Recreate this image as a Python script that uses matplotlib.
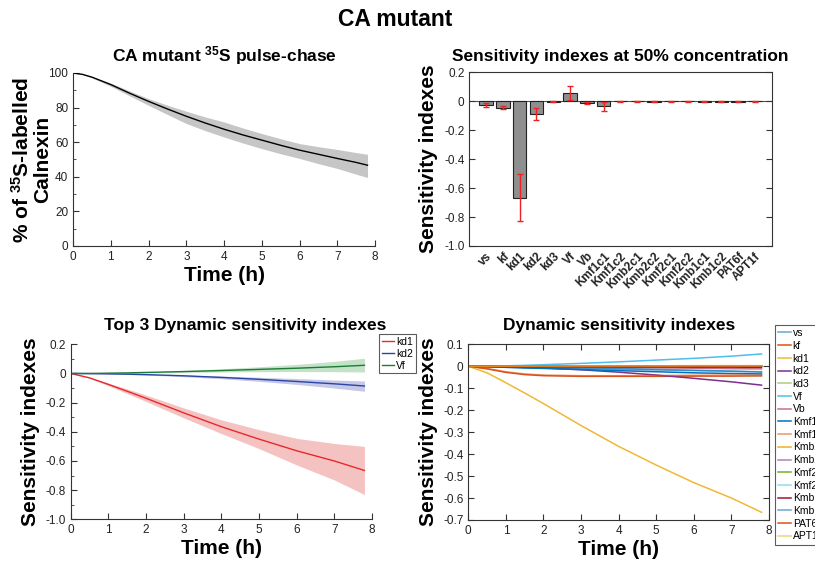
import matplotlib
matplotlib.use("Agg")
import matplotlib.pyplot as plt
import numpy as np
from matplotlib.ticker import MultipleLocator

plt.rcParams["font.family"] = ["Liberation Sans", "DejaVu Sans"]
plt.rcParams["mathtext.fontset"] = "custom"
plt.rcParams["mathtext.rm"] = "Liberation Sans"
plt.rcParams["mathtext.bf"] = "Liberation Sans:bold"
plt.rcParams["mathtext.default"] = "bf"

# --- data ---
# pulse-chase (top left)
t_pc = [0, 0.25, 0.5, 1, 1.5, 2, 2.5, 3, 3.5, 4, 4.5, 5, 5.5, 6, 6.5, 7, 7.5, 7.8]
pc_mean = [100, 99.2, 97.6, 93.3, 88.3, 83.6, 79.2, 75.0, 71.1, 67.5, 64.2, 61.2, 58.2, 55.4, 53.0, 50.6, 48.3, 46.7]
pc_upper = [100, 99.3, 98.0, 94.2, 89.6, 85.2, 81.4, 77.9, 74.6, 71.7, 68.2, 65.0, 62.0, 59.2, 57.4, 55.8, 54.0, 53.0]
pc_lower = [100, 99.1, 97.2, 92.3, 86.8, 81.3, 76.0, 70.8, 66.7, 63.0, 59.5, 56.3, 53.3, 50.6, 47.6, 44.8, 41.5, 39.6]

# sensitivity at 50% (top right)
params = ["vs", "kf", "kd1", "kd2", "kd3", "Vf", "Vb", "Kmf1c1", "Kmf1c2", "Kmb2c1",
          "Kmb2c2", "Kmf2c1", "Kmf2c2", "Kmb1c1", "Kmb1c2", "PAT6f", "APT1f"]
si_50 = [-0.025, -0.045, -0.665, -0.087, -0.002, 0.056, -0.012, -0.035, -0.001, 0.001,
         -0.002, 0.001, -0.001, -0.002, -0.002, -0.002, 0.001]
si_50_err = [0.013, 0.01, 0.165, 0.04, 0.002, 0.048, 0.007, 0.033, 0.002, 0.003,
             0.002, 0.003, 0.002, 0.002, 0.002, 0.002, 0.003]

# dynamic sensitivity (bottom)
t_dyn = [0, 0.5, 1, 1.5, 2, 3, 4, 5, 6, 7, 7.8]
kd1_mean = [0, -0.03, -0.075, -0.122, -0.17, -0.27, -0.365, -0.45, -0.53, -0.60, -0.665]
kd1_upper = [0, -0.027, -0.066, -0.106, -0.148, -0.236, -0.318, -0.385, -0.445, -0.48, -0.50]
kd1_lower = [0, -0.033, -0.084, -0.138, -0.192, -0.304, -0.412, -0.515, -0.627, -0.73, -0.83]
kd2_mean = [0, -0.001, -0.003, -0.005, -0.008, -0.016, -0.027, -0.04, -0.055, -0.071, -0.086]
kd2_upper = [0, 0, -0.002, -0.003, -0.005, -0.011, -0.018, -0.026, -0.035, -0.045, -0.052]
kd2_lower = [0, -0.001, -0.004, -0.007, -0.011, -0.022, -0.036, -0.054, -0.075, -0.10, -0.122]
vf_mean = [0, 0, 0.002, 0.004, 0.007, 0.013, 0.02, 0.028, 0.036, 0.046, 0.056]
vf_upper = [0, 0, 0.003, 0.006, 0.01, 0.02, 0.032, 0.046, 0.062, 0.083, 0.104]
vf_lower = [0, 0, 0.001, 0.002, 0.004, 0.007, 0.01, 0.012, 0.013, 0.012, 0.01]

vs_dyn = [0, -0.002, -0.004, -0.006, -0.008, -0.011, -0.014, -0.017, -0.02, -0.023, -0.025]
kf_dyn = [0, -0.012, -0.028, -0.038, -0.043, -0.046, -0.046, -0.046, -0.045, -0.045, -0.044]
kd3_dyn = [0, 0, 0, 0, 0, 0, 0, 0, 0, 0, 0]
vb_dyn = [0, -0.001, -0.001, -0.002, -0.003, -0.004, -0.006, -0.007, -0.009, -0.011, -0.012]
kmf1c1_dyn = [0, -0.002, -0.005, -0.008, -0.01, -0.015, -0.02, -0.025, -0.03, -0.033, -0.035]
kmf1c2_dyn = [0, -0.01, -0.025, -0.035, -0.04, -0.043, -0.043, -0.042, -0.041, -0.04, -0.04]
kmb2c1_dyn = [0, 0, 0, 0.001, 0.001, 0.001, 0.002, 0.002, 0.002, 0.002, 0.002]
kmb2c2_dyn = [0, 0, 0, 0, 0, -0.001, -0.001, -0.001, -0.001, -0.001, -0.001]
kmf2c1_dyn = [0, 0, 0, 0, 0.001, 0.001, 0.001, 0.002, 0.002, 0.002, 0.002]
kmf2c2_dyn = [0, 0, 0, 0, 0, 0, 0, 0, 0, 0, 0]
kmb1c1_dyn = [0, 0, -0.001, -0.001, -0.001, -0.002, -0.003, -0.003, -0.004, -0.004, -0.005]
kmb1c2_dyn = [0, -0.001, -0.002, -0.003, -0.004, -0.007, -0.01, -0.014, -0.018, -0.022, -0.027]
pat6f_dyn = [0, 0, 0, 0, 0, 0, 0.001, 0.001, 0.001, 0.001, 0.001]
apt1f_dyn = [0, 0, 0.001, 0.001, 0.001, 0.002, 0.002, 0.002, 0.003, 0.003, 0.003]

dyn_series = [vs_dyn, kf_dyn, kd1_mean, kd2_mean, kd3_dyn, vf_mean, vb_dyn, kmf1c1_dyn,
              kmf1c2_dyn, kmb2c1_dyn, kmb2c2_dyn, kmf2c1_dyn, kmf2c2_dyn, kmb1c1_dyn,
              kmb1c2_dyn, pat6f_dyn, apt1f_dyn]

# matlab default colour order, every second one faded
mcols = [(0, 0.447, 0.741), (0.85, 0.325, 0.098), (0.929, 0.694, 0.125),
         (0.494, 0.184, 0.556), (0.466, 0.674, 0.188), (0.301, 0.745, 0.933),
         (0.635, 0.078, 0.184)]

axcol = "#333333"
tick_fs = 8.5
lab_fs = 15
title_fs = 12.5

fig = plt.figure(figsize=(8.15, 5.61), dpi=100)
fig.text(0.485, 0.966, "CA mutant", ha="center", va="center", fontsize=16.5, fontweight="bold",
         family=["Liberation Sans Narrow", "Liberation Sans"])


def style_axis(ax, box=False):
    for s in ["left", "bottom", "top", "right"]:
        ax.spines[s].set_color(axcol)
        ax.spines[s].set_linewidth(0.8)
    if not box:
        ax.spines["top"].set_visible(False)
        ax.spines["right"].set_visible(False)
    ax.tick_params(which="both", direction="in", colors=axcol, labelcolor="#222222",
                   labelsize=tick_fs, right=box, top=False)
    ax.tick_params(which="major", length=4, width=0.8)
    ax.tick_params(which="minor", length=2.5, width=0.6)


# top left: pulse-chase
ax1 = fig.add_axes([0.0896, 0.5615, 0.3706, 0.3084])
ax1.fill_between(t_pc, pc_lower, pc_upper, color="#c6c6c6", lw=0)
ax1.plot(t_pc, pc_mean, color="k", lw=1)
ax1.set_xlim(0, 8)
ax1.set_ylim(0, 100)
ax1.set_yticks(np.arange(0, 101, 20))
ax1.yaxis.set_minor_locator(MultipleLocator(10))
style_axis(ax1)
ax1.set_title(r"CA mutant $^{35}$S pulse-chase", fontsize=title_fs, fontweight="bold", pad=8)
ax1.set_xlabel("Time (h)", fontsize=lab_fs, fontweight="bold", labelpad=2)
ax1.set_ylabel("% of $^{35}$S-labelled\nCalnexin", fontsize=lab_fs, fontweight="bold",
               linespacing=1.0)
ax1.yaxis.set_label_coords(-0.07, 0.5)

# top right: bars
ax2 = fig.add_axes([0.5758, 0.5615, 0.371, 0.3095])
xpos = np.arange(1, len(params) + 1)
ax2.axhline(0, color="#555555", lw=0.8, zorder=1)
ax2.bar(xpos, si_50, width=0.8, color="#8f8f8f", edgecolor="#222222", linewidth=0.8, zorder=2)
ax2.errorbar(xpos, si_50, yerr=si_50_err, fmt="none", ecolor="#ee2222", elinewidth=1,
             capsize=2.5, capthick=1, zorder=3)
ax2.set_xlim(0, len(params) + 1)
ax2.set_ylim(-1.0, 0.2)
ax2.set_yticks([0.2, 0, -0.2, -0.4, -0.6, -0.8, -1.0])
ax2.set_yticklabels(["0.2", "0", "-0.2", "-0.4", "-0.6", "-0.8", "-1.0"])
ax2.set_xticks(xpos)
ax2.set_xticklabels(params, rotation=45, ha="right", rotation_mode="anchor",
                    fontsize=7, fontweight="bold")
style_axis(ax2, box=True)
ax2.tick_params(axis="x", length=0, pad=3)
ax2.set_title("Sensitivity indexes at 50% concentration", fontsize=title_fs,
              fontweight="bold", pad=8)
ax2.set_ylabel("Sensitivity indexes", fontsize=lab_fs, fontweight="bold", labelpad=4)

# bottom left: top 3 dynamic
ax3 = fig.add_axes([0.0867, 0.0743, 0.3697, 0.312])
ax3.fill_between(t_dyn, kd1_lower, kd1_upper, color="#f5c2c2", lw=0)
ax3.fill_between(t_dyn, kd2_lower, kd2_upper, color="#c5c8e6", lw=0)
ax3.fill_between(t_dyn, vf_lower, vf_upper, color="#c4e2c8", lw=0)
ax3.plot(t_dyn, kd1_mean, color="#e8282b", lw=1, label="kd1")
ax3.plot(t_dyn, kd2_mean, color="#2a44a8", lw=1, label="kd2")
ax3.plot(t_dyn, vf_mean, color="#1c7c34", lw=1, label="Vf")
ax3.set_xlim(0, 8)
ax3.set_ylim(-1.0, 0.2)
ax3.set_yticks([0.2, 0, -0.2, -0.4, -0.6, -0.8, -1.0])
ax3.set_yticklabels(["0.2", "0", "-0.2", "-0.4", "-0.6", "-0.8", "-1.0"])
ax3.yaxis.set_minor_locator(MultipleLocator(0.1))
style_axis(ax3)
ax3.set_title("Top 3 Dynamic sensitivity indexes", fontsize=title_fs, fontweight="bold",
              pad=10, x=0.58)
ax3.set_xlabel("Time (h)", fontsize=lab_fs, fontweight="bold", labelpad=2)
ax3.set_ylabel("Sensitivity indexes", fontsize=lab_fs, fontweight="bold", labelpad=4)
leg3 = ax3.legend(loc="upper left", bbox_to_anchor=(379 / 815, 1 - 334 / 561),
                  bbox_transform=fig.transFigure, fontsize=7.5, frameon=True, fancybox=False,
                  handlelength=1.2, handletextpad=0.2, borderpad=0.25, labelspacing=0.2,
                  borderaxespad=0)
leg3.get_frame().set_edgecolor("#333333")
leg3.get_frame().set_linewidth(0.8)

# bottom right: all dynamic
ax4 = fig.add_axes([0.5746, 0.0731, 0.369, 0.3132])
for i, (name, ys) in enumerate(zip(params, dyn_series)):
    c = mcols[i % len(mcols)]
    a = 1.0 if i % 2 == 1 else 0.6
    if name == "kd1":
        a = 0.9
    ax4.plot(t_dyn, ys, color=c, alpha=a, lw=1.1, label=name)
ax4.set_xlim(0, 8)
ax4.set_ylim(-0.7, 0.1)
ax4.set_yticks(np.arange(-0.7, 0.11, 0.1))
ax4.set_yticklabels(["-0.7", "-0.6", "-0.5", "-0.4", "-0.3", "-0.2", "-0.1", "0", "0.1"])
style_axis(ax4, box=True)
ax4.tick_params(axis="x", top=True)
ax4.set_title("Dynamic sensitivity indexes", fontsize=title_fs, fontweight="bold", pad=10)
ax4.set_xlabel("Time (h)", fontsize=lab_fs, fontweight="bold", labelpad=2)
ax4.set_ylabel("Sensitivity indexes", fontsize=lab_fs, fontweight="bold", labelpad=4)
leg4 = ax4.legend(loc="upper left", bbox_to_anchor=(775 / 815, 1 - 325 / 561),
                  bbox_transform=fig.transFigure, fontsize=7.5, frameon=True, fancybox=False,
                  handlelength=1.2, handletextpad=0.2, borderpad=0.3, labelspacing=0.26,
                  borderaxespad=0)
leg4.get_frame().set_edgecolor("#333333")
leg4.get_frame().set_linewidth(0.8)

fig.savefig("out.png", dpi=100)
